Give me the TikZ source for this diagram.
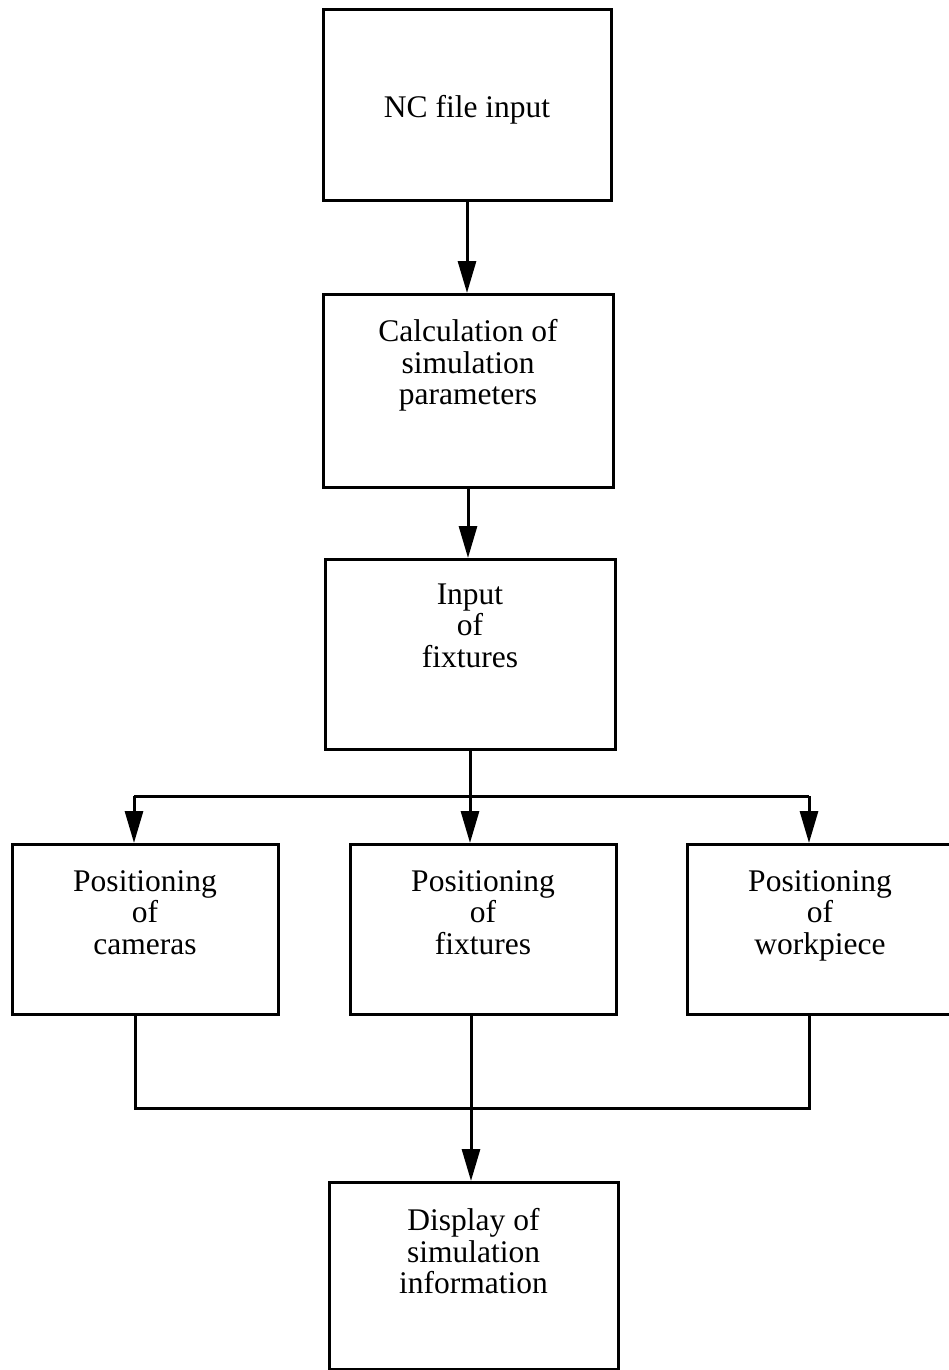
\documentclass[tikz,border=0pt]{standalone}
\usepackage{fontspec}
\setmainfont{Liberation Serif}
\usetikzlibrary{arrows.meta}

\begin{document}
\begin{tikzpicture}[x=1pt, y=-1pt, line width=3pt,
	every node/.style={font=\fontsize{31.5}{31.5}\selectfont, align=center, inner sep=0pt},
	box/.style={draw, anchor=north},
	words/.style={anchor=north},
	>={Triangle[length=32pt, width=18pt]}]
	\useasboundingbox (0,0) rectangle (949,1370);
	
	\node[box, minimum width=288pt, minimum height=191pt] (1) at (467,8) {};
	\node[box, minimum width=290pt, minimum height=193pt] (2) at (468,293) {};
	\node[box, minimum width=290pt, minimum height=190pt] (3) at (470,558) {};
	\node[box, minimum width=266pt, minimum height=170pt] (4) at (145,843) {};
	\node[box, minimum width=266pt, minimum height=170pt] (5) at (483,843) {};
	\node[box, minimum width=266pt, minimum height=170pt] (6) at (820,843) {};
	\node[box, minimum width=289pt, minimum height=187pt] (7) at (473.5,1181) {};
	
	\node[words] (t1) at ([yshift=-86pt]1.north) {NC file input};
	\node[words] (t2) at ([yshift=-25pt]2.north) {Calculation of\\simulation\\parameters};
	\node[words] (t3) at ([yshift=-24pt]3.north) {Input\\of\\fixtures};
	\node[words] (t4) at ([yshift=-26pt]4.north) {Positioning\\of\\cameras};
	\node[words] (t5) at ([yshift=-26pt]5.north) {Positioning\\of\\fixtures};
	\node[words] (t6) at ([yshift=-26pt]6.north) {Positioning\\of\\workpiece};
	\node[words] (t7) at ([yshift=-26pt]7.north) {Display of\\simulation\\information};
	
	\coordinate (a) at (470,796);
	\coordinate (b) at (134,796);
	\coordinate (c) at (809,796);
	\coordinate (d) at (135,1108);
	\coordinate (e) at (809,1108);
	\coordinate (f) at (471,1108);
	
	\draw[->] (1.south) -- (1.south |- 2.north);
	\draw[->] (2.south) -- (2.south |- 3.north);
	\draw (3.south) -- (a);
	\draw (b) -- (c);
	\draw[->] (b) -- (b |- 4.north);
	\draw[->] (a) -- (a |- 5.north);
	\draw[->] (c) -- (c |- 6.north);
	\draw (d |- 4.south) -- (d) -- (e) -- (e |- 6.south);
	\draw[->] (f |- 5.south) -- (f |- 7.north);
	
\end{tikzpicture}
\end{document}
